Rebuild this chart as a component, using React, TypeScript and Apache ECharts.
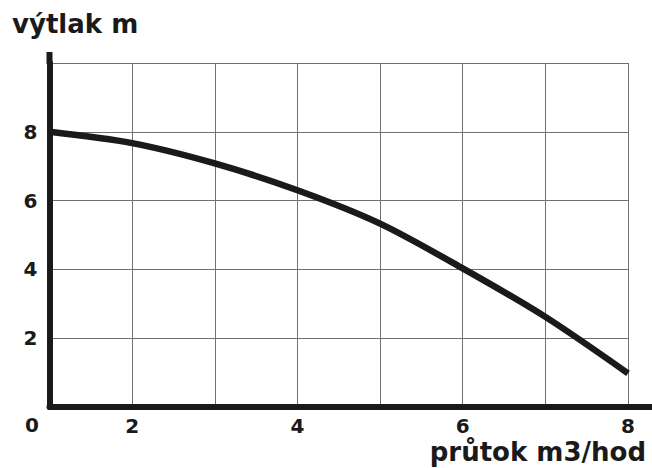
import React, { useEffect, useRef } from "react";
import * as echarts from "echarts";

const flowValues = [1, 2, 3, 4, 5, 6, 7, 8];
const headValues = [8.0, 7.67, 7.08, 6.3, 5.33, 4.03, 2.62, 0.98];
const xTickLabels = [2, 4, 6, 8];
const yTickLabels = [2, 4, 6, 8];
const yTitle = "výtlak m";
const xTitle = "průtok m3/hod";
const cornerLabel = "0";

const FONT = "DejaVu Sans";
const INK = "#1a1a1a";
const GRIDC = "#707070";

export default function App() {
  const ref = useRef<HTMLDivElement>(null);
  useEffect(() => {
    if (!ref.current) return;
    const chart = echarts.init(ref.current, undefined, { renderer: "svg" });
    const gridLeft = 49.5, gridTop = 63, gridRight = 24, gridBottom = 61;
    const W = 652, H = 468;
    chart.setOption({
      animation: false,
      backgroundColor: "#ffffff",
      grid: { left: gridLeft, top: gridTop, right: gridRight, bottom: gridBottom, containLabel: false },
      xAxis: {
        type: "value",
        min: 1,
        max: 8,
        interval: 1,
        axisLine: { show: true, lineStyle: { color: INK, width: 6 } },
        axisTick: { show: false },
        splitLine: { show: true, lineStyle: { color: GRIDC, width: 1 } },
        axisLabel: {
          margin: 9,
          fontFamily: FONT,
          fontWeight: "bold",
          fontSize: 20,
          color: INK,
          formatter: (v: number) => (xTickLabels.includes(v) ? String(v) : ""),
        },
      },
      yAxis: {
        type: "value",
        min: 0,
        max: 10,
        interval: 2,
        axisLine: { show: true, lineStyle: { color: INK, width: 6 } },
        axisTick: { show: false },
        splitLine: { show: true, lineStyle: { color: GRIDC, width: 1 } },
        axisLabel: {
          margin: 12,
          fontFamily: FONT,
          fontWeight: "bold",
          fontSize: 20,
          color: INK,
          padding: [0, 0, 14, 0],
          formatter: (v: number) => (yTickLabels.includes(v) ? String(v) : ""),
        },
      },
      series: [
        {
          type: "line",
          data: flowValues.map((x, i) => [x, headValues[i]]),
          smooth: 0.3,
          symbol: "none",
          lineStyle: { color: INK, width: 6.5, cap: "butt" },
          z: 5,
        },
      ],
      graphic: [
        {
          type: "line",
          shape: { x1: W - gridRight, y1: H - gridBottom, x2: W, y2: H - gridBottom },
          style: { stroke: INK, lineWidth: 6 },
          z: 10,
        },
        {
          type: "line",
          shape: { x1: gridLeft, y1: 52, x2: gridLeft, y2: gridTop + 1 },
          style: { stroke: INK, lineWidth: 6 },
          z: 10,
        },
        {
          type: "text",
          x: 12,
          y: 24,
          style: {
            text: yTitle,
            fontFamily: FONT,
            fontWeight: "bold",
            fontSize: 26,
            fill: INK,
            align: "left",
            verticalAlign: "middle",
          },
        },
        {
          type: "text",
          x: 646,
          y: 452,
          style: {
            text: xTitle,
            fontFamily: FONT,
            fontWeight: "bold",
            fontSize: 26,
            fill: INK,
            align: "right",
            verticalAlign: "middle",
          },
        },
        {
          type: "text",
          x: 32,
          y: 425,
          style: {
            text: cornerLabel,
            fontFamily: FONT,
            fontWeight: "bold",
            fontSize: 20,
            fill: INK,
            align: "center",
            verticalAlign: "middle",
          },
        },
      ],
    });
    return () => chart.dispose();
  }, []);
  return (
    <div
      ref={ref}
      style={{ position: "fixed", left: 0, top: 0, width: 652, height: 468, background: "#fff" }}
    />
  );
}
